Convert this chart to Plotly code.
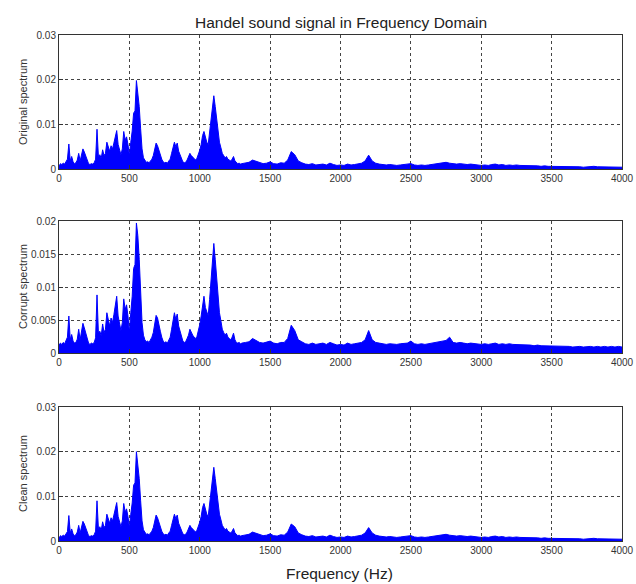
import numpy as np
import plotly.graph_objects as go

# Frequency grid (Hz): 10 Hz steps to 1300 Hz, 25 Hz steps beyond
freq_low = list(range(0, 1301, 10))        # 131 points
freq_high = list(range(1325, 4001, 25))    # 108 points
freq = freq_low + freq_high

orig_low = [
    0.0006, 0.0012, 0.0010, 0.0013, 0.0011, 0.0016, 0.0022, 0.0056, 0.0018, 0.0028,   # 0-90
    0.0016, 0.0012, 0.0014, 0.0020, 0.0035, 0.0018, 0.0030, 0.0045, 0.0038, 0.0030,   # 100-190
    0.0022, 0.0012, 0.0010, 0.0012, 0.0011, 0.0014, 0.0022, 0.0089, 0.0028, 0.0032,   # 200-290
    0.0024, 0.0043, 0.0030, 0.0035, 0.0060, 0.0048, 0.0040, 0.0052, 0.0045, 0.0058,   # 300-390
    0.0069, 0.0086, 0.0055, 0.0040, 0.0032, 0.0045, 0.0084, 0.0065, 0.0072, 0.0055,   # 400-490
    0.0030, 0.0060, 0.0085, 0.0125, 0.0130, 0.0198, 0.0175, 0.0140, 0.0090, 0.0045,   # 500-590
    0.0025, 0.0018, 0.0015, 0.0016, 0.0014, 0.0018, 0.0022, 0.0030, 0.0045, 0.0058,   # 600-690
    0.0052, 0.0040, 0.0032, 0.0022, 0.0016, 0.0014, 0.0015, 0.0013, 0.0018, 0.0022,   # 700-790
    0.0035, 0.0045, 0.0060, 0.0050, 0.0058, 0.0040, 0.0032, 0.0022, 0.0016, 0.0014,   # 800-890
    0.0015, 0.0020, 0.0026, 0.0035, 0.0030, 0.0026, 0.0022, 0.0020, 0.0024, 0.0032,   # 900-990
    0.0042, 0.0055, 0.0075, 0.0084, 0.0068, 0.0060, 0.0055, 0.0080, 0.0110, 0.0135,   # 1000-1090
    0.0164, 0.0140, 0.0110, 0.0085, 0.0060, 0.0048, 0.0035, 0.0030, 0.0025, 0.0028,   # 1100-1190
    0.0022, 0.0020, 0.0018, 0.0022, 0.0028, 0.0018, 0.0014, 0.0012, 0.0013, 0.0011,   # 1200-1290
    0.0012,                                                                           # 1300
]
orig_high = [
    0.0013, 0.0015, 0.0020, 0.0017, 0.0014, 0.0012, 0.0013, 0.0016, 0.0012, 0.0011,   # 1325-1550
    0.0014, 0.0013, 0.0020, 0.0039, 0.0032, 0.0018, 0.0014, 0.0011, 0.0010, 0.0012,   # 1575-1800
    0.0009, 0.0010, 0.0011, 0.0009, 0.0013, 0.0010, 0.0008, 0.0009, 0.0008, 0.0011,   # 1825-2050
    0.0009, 0.0010, 0.0011, 0.0013, 0.0018, 0.0031, 0.0018, 0.0013, 0.0011, 0.0010,   # 2075-2300
    0.0009, 0.0010, 0.0009, 0.0008, 0.0009, 0.0010, 0.0011, 0.0012, 0.0009, 0.0008,   # 2325-2550
    0.0009, 0.0008, 0.0009, 0.0010, 0.0011, 0.0012, 0.0013, 0.0015, 0.0013, 0.0012,   # 2575-2800
    0.0011, 0.0012, 0.0011, 0.0010, 0.0011, 0.0010, 0.0009, 0.0008, 0.0009, 0.0008,   # 2825-3050
    0.0010, 0.0011, 0.0009, 0.0010, 0.0008, 0.0009, 0.0008, 0.0009, 0.0008, 0.0008,   # 3075-3300
    0.0007, 0.0008, 0.0007, 0.0007, 0.0006, 0.0007, 0.0006, 0.0006, 0.0006, 0.0005,   # 3325-3550
    0.0006, 0.0005, 0.0005, 0.0005, 0.0006, 0.0005, 0.0004, 0.0005, 0.0005, 0.0006,   # 3575-3800
    0.0005, 0.0005, 0.0004, 0.0004, 0.0005, 0.0004, 0.0004, 0.0004,                   # 3825-4000
]

corrupt_low = [
    0.0012, 0.0015, 0.0013, 0.0016, 0.0014, 0.0018, 0.0024, 0.0056, 0.0020, 0.0028,
    0.0018, 0.0015, 0.0016, 0.0021, 0.0036, 0.0020, 0.0031, 0.0045, 0.0038, 0.0031,
    0.0023, 0.0015, 0.0013, 0.0015, 0.0014, 0.0016, 0.0023, 0.0088, 0.0030, 0.0033,
    0.0026, 0.0044, 0.0031, 0.0036, 0.0061, 0.0049, 0.0041, 0.0053, 0.0046, 0.0058,
    0.0070, 0.0086, 0.0056, 0.0041, 0.0034, 0.0046, 0.0082, 0.0066, 0.0073, 0.0056,
    0.0031, 0.0061, 0.0086, 0.0128, 0.0134, 0.0197, 0.0178, 0.0142, 0.0092, 0.0046,
    0.0027, 0.0020, 0.0017, 0.0018, 0.0016, 0.0020, 0.0024, 0.0031, 0.0046, 0.0057,
    0.0053, 0.0041, 0.0033, 0.0024, 0.0018, 0.0016, 0.0017, 0.0015, 0.0020, 0.0024,
    0.0036, 0.0046, 0.0061, 0.0051, 0.0059, 0.0041, 0.0033, 0.0024, 0.0018, 0.0016,
    0.0017, 0.0022, 0.0027, 0.0036, 0.0031, 0.0027, 0.0024, 0.0022, 0.0025, 0.0033,
    0.0043, 0.0056, 0.0076, 0.0086, 0.0069, 0.0061, 0.0056, 0.0081, 0.0112, 0.0138,
    0.0166, 0.0142, 0.0112, 0.0086, 0.0061, 0.0049, 0.0036, 0.0031, 0.0027, 0.0030,
    0.0024, 0.0022, 0.0020, 0.0024, 0.0030, 0.0020, 0.0016, 0.0015, 0.0016, 0.0014,
    0.0015,
]
corrupt_high = [
    0.0016, 0.0017, 0.0022, 0.0019, 0.0016, 0.0015, 0.0016, 0.0018, 0.0015, 0.0014,
    0.0016, 0.0016, 0.0022, 0.0042, 0.0034, 0.0020, 0.0017, 0.0014, 0.0013, 0.0015,
    0.0013, 0.0014, 0.0015, 0.0013, 0.0016, 0.0014, 0.0012, 0.0013, 0.0012, 0.0015,
    0.0013, 0.0014, 0.0015, 0.0016, 0.0020, 0.0034, 0.0020, 0.0016, 0.0015, 0.0014,
    0.0013, 0.0014, 0.0013, 0.0013, 0.0014, 0.0014, 0.0015, 0.0018, 0.0014, 0.0013,
    0.0014, 0.0013, 0.0014, 0.0015, 0.0015, 0.0016, 0.0017, 0.0019, 0.0024, 0.0016,
    0.0015, 0.0016, 0.0015, 0.0014, 0.0015, 0.0014, 0.0013, 0.0013, 0.0014, 0.0013,
    0.0014, 0.0015, 0.0013, 0.0014, 0.0013, 0.0014, 0.0013, 0.0013, 0.0012, 0.0013,
    0.0012, 0.0012, 0.0011, 0.0012, 0.0011, 0.0011, 0.0010, 0.0011, 0.0010, 0.0010,
    0.0011, 0.0010, 0.0010, 0.0009, 0.0010, 0.0010, 0.0009, 0.0010, 0.0010, 0.0009,
    0.0010, 0.0009, 0.0010, 0.0009, 0.0010, 0.0009, 0.0010, 0.0009,
]

clean_low = [
    0.0006, 0.0012, 0.0010, 0.0013, 0.0011, 0.0016, 0.0021, 0.0057, 0.0018, 0.0027,
    0.0016, 0.0012, 0.0014, 0.0020, 0.0035, 0.0018, 0.0030, 0.0044, 0.0038, 0.0030,
    0.0022, 0.0012, 0.0010, 0.0012, 0.0011, 0.0014, 0.0022, 0.0090, 0.0028, 0.0032,
    0.0024, 0.0043, 0.0030, 0.0035, 0.0060, 0.0048, 0.0040, 0.0052, 0.0045, 0.0058,
    0.0069, 0.0086, 0.0055, 0.0040, 0.0032, 0.0045, 0.0084, 0.0065, 0.0072, 0.0055,
    0.0030, 0.0060, 0.0085, 0.0125, 0.0130, 0.0200, 0.0176, 0.0140, 0.0090, 0.0045,
    0.0025, 0.0018, 0.0015, 0.0016, 0.0014, 0.0018, 0.0022, 0.0030, 0.0045, 0.0058,
    0.0052, 0.0040, 0.0032, 0.0022, 0.0016, 0.0014, 0.0015, 0.0013, 0.0018, 0.0022,
    0.0035, 0.0045, 0.0060, 0.0050, 0.0058, 0.0040, 0.0032, 0.0022, 0.0016, 0.0014,
    0.0015, 0.0020, 0.0026, 0.0035, 0.0030, 0.0026, 0.0022, 0.0020, 0.0024, 0.0032,
    0.0042, 0.0055, 0.0075, 0.0084, 0.0068, 0.0060, 0.0055, 0.0080, 0.0110, 0.0135,
    0.0165, 0.0140, 0.0110, 0.0085, 0.0060, 0.0048, 0.0035, 0.0030, 0.0025, 0.0028,
    0.0022, 0.0020, 0.0018, 0.0022, 0.0028, 0.0018, 0.0014, 0.0012, 0.0013, 0.0011,
    0.0012,
]
clean_high = [
    0.0013, 0.0015, 0.0020, 0.0017, 0.0014, 0.0012, 0.0013, 0.0016, 0.0012, 0.0011,
    0.0014, 0.0013, 0.0020, 0.0038, 0.0032, 0.0018, 0.0014, 0.0011, 0.0010, 0.0012,
    0.0009, 0.0010, 0.0011, 0.0009, 0.0013, 0.0010, 0.0008, 0.0009, 0.0008, 0.0011,
    0.0009, 0.0010, 0.0011, 0.0013, 0.0018, 0.0030, 0.0018, 0.0013, 0.0011, 0.0010,
    0.0009, 0.0010, 0.0009, 0.0008, 0.0009, 0.0010, 0.0011, 0.0012, 0.0009, 0.0008,
    0.0009, 0.0008, 0.0009, 0.0010, 0.0011, 0.0012, 0.0013, 0.0015, 0.0013, 0.0012,
    0.0011, 0.0012, 0.0011, 0.0010, 0.0011, 0.0010, 0.0009, 0.0008, 0.0009, 0.0008,
    0.0010, 0.0011, 0.0009, 0.0010, 0.0008, 0.0009, 0.0008, 0.0009, 0.0008, 0.0008,
    0.0007, 0.0008, 0.0007, 0.0007, 0.0006, 0.0007, 0.0006, 0.0006, 0.0006, 0.0005,
    0.0006, 0.0005, 0.0005, 0.0005, 0.0006, 0.0005, 0.0004, 0.0005, 0.0005, 0.0006,
    0.0005, 0.0005, 0.0004, 0.0004, 0.0005, 0.0004, 0.0004, 0.0004,
]

original = orig_low + orig_high
corrupt = corrupt_low + corrupt_high
clean = clean_low + clean_high

panel_titles = ["Original spectrum", "Corrupt spectrum", "Clean spectrum"]
x_ticks = [0, 500, 1000, 1500, 2000, 2500, 3000, 3500, 4000]
y_ticks_a = [0, 0.01, 0.02, 0.03]
y_labels_a = ["0", "0.01", "0.02", "0.03"]
y_ticks_b = [0, 0.005, 0.01, 0.015, 0.02]
y_labels_b = ["0", "0.005", "0.01", "0.015", "0.02"]

W, H = 636, 584
BLUE = "#0000FF"

# pixel boxes of each panel: (top, bottom)
panels = [(35, 169), (221, 353), (407, 541)]
x_left, x_right = 59, 622

fig = go.Figure()
series = [original, corrupt, clean]
for i, ys in enumerate(series):
    n = "" if i == 0 else str(i + 1)
    fig.add_trace(go.Scatter(
        x=freq, y=ys, mode="lines",
        line=dict(color=BLUE, width=1),
        fill="tozeroy", fillcolor=BLUE,
        xaxis="x" + n, yaxis="y" + n, showlegend=False,
        hoverinfo="x+y",
    ))

axis_common = dict(
    showline=True, linecolor="#333", linewidth=1, mirror=True,
    ticks="inside", ticklen=4, tickcolor="#333",
    showgrid=True, gridcolor="#444", griddash="dot", gridwidth=1,
    zeroline=False, automargin=False,
    tickfont=dict(family="Liberation Sans, Arial", size=10, color="#333"),
)

layout = dict(
    width=W, height=H,
    margin=dict(l=0, r=0, t=0, b=0),
    paper_bgcolor="white", plot_bgcolor="white",
    showlegend=False,
)
for i, (top, bot) in enumerate(panels):
    n = "" if i == 0 else str(i + 1)
    ydom = [1 - bot / H, 1 - top / H]
    xdom = [x_left / W, x_right / W]
    yt, yl, yr = (y_ticks_b, y_labels_b, [0, 0.02]) if i == 1 else (y_ticks_a, y_labels_a, [0, 0.03])
    layout["xaxis" + n] = dict(
        axis_common, domain=xdom, range=[0, 4000], tickvals=x_ticks,
        ticktext=[str(v) for v in x_ticks], anchor="y" + n,
    )
    layout["yaxis" + n] = dict(
        axis_common, domain=ydom, range=yr, tickvals=yt, ticktext=yl,
        anchor="x" + n,
    )

annotations = [
    dict(text="Handel sound signal in Frequency Domain", x=341 / W, y=1 - 22 / H,
         xref="paper", yref="paper", showarrow=False, xanchor="center", yanchor="middle",
         font=dict(family="Liberation Sans, Arial", size=15.5, color="#222")),
    dict(text="Frequency (Hz)", x=339 / W, y=1 - 573 / H,
         xref="paper", yref="paper", showarrow=False, xanchor="center", yanchor="middle",
         font=dict(family="Liberation Sans, Arial", size=15.5, color="#222")),
]
for (top, bot), t in zip(panels, panel_titles):
    annotations.append(dict(
        text=t, x=23 / W, y=1 - ((top + bot) / 2) / H, xref="paper", yref="paper",
        showarrow=False, textangle=-90, xanchor="center", yanchor="middle",
        font=dict(family="Liberation Sans, Arial", size=11, color="#333"),
    ))
layout["annotations"] = annotations

fig.update_layout(**layout)
fig.write_html(
    "out.html",
    config={"displayModeBar": False},
    post_script="document.body.style.margin='0px';document.body.style.overflow='hidden';",
)
